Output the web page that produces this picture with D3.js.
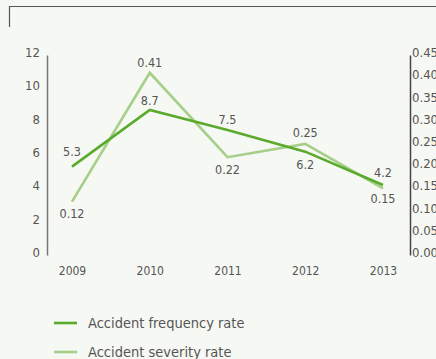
<!DOCTYPE html>
<html><head><meta charset="utf-8">
<script src="https://cdn.jsdelivr.net/npm/d3@7"></script>
<style>
html,body{margin:0;padding:0;background:#f6f8f3;}
svg{display:block;}
text{font-family:"DejaVu Sans Condensed","Noto Sans",sans-serif;fill:#555;}
</style></head>
<body>
<script>
const years = ["2009","2010","2011","2012","2013"];
const frequency = [5.3, 8.7, 7.5, 6.2, 4.2];
const severity = [0.12, 0.41, 0.22, 0.25, 0.15];
const leftTicks = [0,2,4,6,8,10,12];
const rightTicks = [0,0.05,0.10,0.15,0.20,0.25,0.30,0.35,0.40,0.45];
const seriesNames = ["Accident frequency rate","Accident severity rate"];
// label offsets (px) from each point
const freqLabelOffset = [-15, -9.5, -10, 12.5, -12.5];
const sevLabelOffset = [11.5, -10, 12, -11, 10];

const W=436,H=359;
const svg=d3.select("body").append("svg").attr("width",W).attr("height",H);
svg.append("rect").attr("width",W).attr("height",H).attr("fill","#f6f8f3");

// top bracket
svg.append("path").attr("d","M9.5,27V6.5H436").attr("fill","none").attr("stroke","#555").attr("stroke-width",1.2);

const x=d3.scalePoint().domain(years).range([72,383]);
const yL=d3.scaleLinear().domain([0,12]).range([255,55]);
const yR=d3.scaleLinear().domain([0,0.45]).range([255,55]);

const gL=svg.append("g").attr("transform","translate(47,0)")
  .call(d3.axisLeft(yL).tickValues(leftTicks).tickSize(0).tickPadding(7).tickFormat(d3.format("d")));
gL.select(".domain").attr("stroke","#777").attr("stroke-width",1.5);
gL.selectAll("text").attr("font-size",13).attr("dy","0.12em").attr("fill","#555");

const gR=svg.append("g").attr("transform","translate(410,0)")
  .call(d3.axisRight(yR).tickValues(rightTicks).tickSize(0).tickPadding(2).tickFormat(d3.format(".2f")));
gR.select(".domain").attr("stroke","#444").attr("stroke-width",1.5);
gR.selectAll("text").attr("font-size",13).attr("dy","0.12em").attr("fill","#555");

const gX=svg.append("g").attr("transform","translate(0,266)")
  .call(d3.axisBottom(x).tickSize(0).tickPadding(0));
gX.select(".domain").remove();
gX.selectAll("text").attr("font-size",12).attr("dy","0.71em").attr("fill","#555");

const dark="#5aab2c", light="#a6cf89";

svg.append("path").datum(severity)
  .attr("d",d3.line().x((d,i)=>x(years[i])).y(d=>yR(d)))
  .attr("fill","none").attr("stroke",light).attr("stroke-width",2.6);
svg.append("path").datum(frequency)
  .attr("d",d3.line().x((d,i)=>x(years[i])).y(d=>yL(d)))
  .attr("fill","none").attr("stroke",dark).attr("stroke-width",2.6);

svg.selectAll(".fl").data(frequency).join("text").attr("class","fl")
  .attr("x",(d,i)=>x(years[i])).attr("y",(d,i)=>yL(d)+freqLabelOffset[i])
  .attr("dy","0.35em").attr("text-anchor","middle").attr("font-size",12.5).text(d=>d.toFixed(1));
svg.selectAll(".sl").data(severity).join("text").attr("class","sl")
  .attr("x",(d,i)=>x(years[i])).attr("y",(d,i)=>yR(d)+sevLabelOffset[i])
  .attr("dy","0.35em").attr("text-anchor","middle").attr("font-size",12.5).text(d=>d.toFixed(2));

const leg=svg.append("g");
[dark,light].forEach((c,i)=>{
  const yy=323+i*29;
  leg.append("line").attr("x1",54).attr("x2",77).attr("y1",yy).attr("y2",yy).attr("stroke",c).attr("stroke-width",2.6);
  leg.append("text").attr("x",88).attr("y",yy).attr("dy","0.35em").attr("font-size",14.5).text(seriesNames[i]);
});
</script>
</body></html>
